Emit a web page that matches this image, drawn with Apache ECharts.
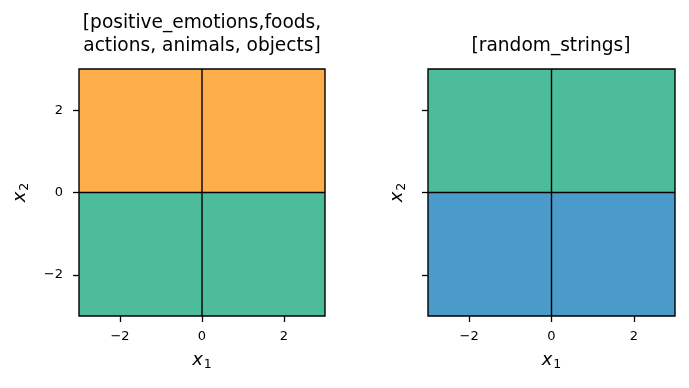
<!DOCTYPE html>
<html><head><meta charset="utf-8">
<script src="https://cdn.jsdelivr.net/npm/echarts@6/dist/echarts.min.js"></script>
<style>html,body{margin:0;padding:0;background:#fff}#c{width:689px;height:388px}</style>
</head><body><div id="c"></div>
<script>
const titles = ['[positive_emotions,foods,\nactions, animals, objects]', '[random_strings]'];
const tickValues = [-2, 0, 2];
const axisRange = [-3, 3];
// regions: [x0, x1, y0, y1, class]
const leftRegions = [[-3, 3, 0, 3, 'orange'], [-3, 3, -3, 0, 'green']];
const rightRegions = [[-3, 3, 0, 3, 'green'], [-3, 3, -3, 0, 'blue']];
const boundaryV = [[0, -3], [0, 3]];
const boundaryH = [[-3, 0], [3, 0]];

const colors = {orange: '#FDAE4B', green: '#4CBC9B', blue: '#4A9BC9'};
const FONT = 'DejaVu Sans';
const fmt = v => v < 0 ? '\u2212' + (-v) : String(v);

function axisName(sub) {
  return {
    name: '{i|x}{s|' + sub + '}',
    nameTextStyle: {
      rich: {
        i: {fontFamily: FONT, fontStyle: 'italic', fontSize: 18, color: '#000'},
        s: {fontFamily: FONT, fontSize: 12.5, color: '#000', padding: [9, 0, 0, 1]}
      }
    }
  };
}
const tickLabelStyle = {fontFamily: FONT, fontSize: 13, color: '#000'};

function xAx(gi) {
  return Object.assign({
    gridIndex: gi, type: 'value', min: axisRange[0], max: axisRange[1], z: 6,
    nameLocation: 'middle', nameGap: 33,
    axisLine: {show: false, onZero: false},
    axisTick: {show: true, customValues: tickValues, length: 6, lineStyle: {color: '#000', width: 1.3}},
    axisLabel: {show: true, customValues: tickValues, margin: 14,
      formatter: v => '{t|' + fmt(v) + '}', rich: {t: tickLabelStyle}},
    splitLine: {show: false}
  }, axisName('1'));
}
function yAx(gi, labels, gap) {
  return Object.assign({
    gridIndex: gi, type: 'value', min: axisRange[0], max: axisRange[1], z: 6,
    nameLocation: 'middle', nameGap: gap, nameRotate: 90,
    axisLine: {show: false, onZero: false},
    axisTick: {show: true, customValues: tickValues, length: 6, lineStyle: {color: '#000', width: 1.3}},
    axisLabel: {show: labels, customValues: tickValues, margin: 16,
      formatter: v => '{t|' + fmt(v) + '}', rich: {t: tickLabelStyle}},
    splitLine: {show: false}
  }, axisName('2'));
}

function regionSeries(gi, data) {
  return {
    type: 'custom', xAxisIndex: gi, yAxisIndex: gi, z: 2,
    data: data,
    renderItem: function (params, api) {
      const d = data[params.dataIndex];
      const p0 = api.coord([d[0], d[3]]);
      const p1 = api.coord([d[1], d[2]]);
      return {type: 'rect', shape: {x: p0[0], y: p0[1], width: p1[0] - p0[0], height: p1[1] - p0[1]},
        style: {fill: colors[d[4]], stroke: null}};
    },
    encode: {x: [0, 1], y: [2, 3]}, silent: true
  };
}
function lineSeries(gi, data) {
  return {type: 'line', xAxisIndex: gi, yAxisIndex: gi, data: data, symbol: 'none', z: 3,
    lineStyle: {color: '#000', width: 1.4}, silent: true};
}

const chart = echarts.init(document.getElementById('c'), null, {renderer: 'canvas'});
chart.setOption({
  animation: false,
  backgroundColor: '#fff',
  title: [
    {text: titles[0], left: 202, top: 12, textAlign: 'center', padding: 0,
      textStyle: {fontFamily: FONT, fontSize: 18.6, fontWeight: 'normal', color: '#000', lineHeight: 23}},
    {text: titles[1], left: 551, top: 35, textAlign: 'center', padding: 0,
      textStyle: {fontFamily: FONT, fontSize: 18.6, fontWeight: 'normal', color: '#000', lineHeight: 23}}
  ],
  grid: [
    {left: 79, top: 69, width: 246, height: 247, show: true, borderColor: '#000', borderWidth: 1.4, backgroundColor: 'transparent', z: 10},
    {left: 428, top: 69, width: 247, height: 247, show: true, borderColor: '#000', borderWidth: 1.4, backgroundColor: 'transparent', z: 10}
  ],
  xAxis: [xAx(0), xAx(1)],
  yAxis: [yAx(0, true, 48), yAx(1, false, 20)],
  series: [
    regionSeries(0, leftRegions), regionSeries(1, rightRegions),
    lineSeries(0, boundaryV), lineSeries(0, boundaryH),
    lineSeries(1, boundaryV), lineSeries(1, boundaryH)
  ]
});
</script></body></html>
